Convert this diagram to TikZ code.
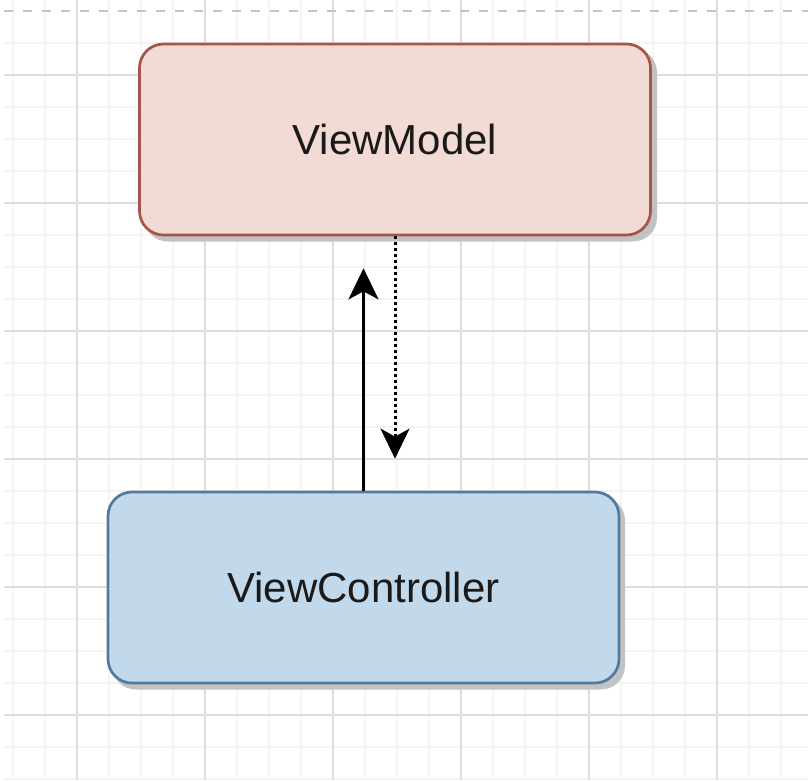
\documentclass[tikz,border=0pt]{standalone}
\usepackage{fontspec}
\setmainfont{Liberation Sans}
\usetikzlibrary{arrows.meta}
\definecolor{vmfill}{HTML}{F2DAD5}
\definecolor{vmdraw}{HTML}{A9544B}
\definecolor{vcfill}{HTML}{C2D8EB}
\definecolor{vcdraw}{HTML}{53799F}
\definecolor{minorgrid}{HTML}{F4F4F4}
\definecolor{majorgrid}{HTML}{DDDDDD}
\definecolor{pageline}{HTML}{C4C4C4}
\definecolor{txt}{HTML}{1A1A1A}
\definecolor{shadowc}{HTML}{C2C2C2}
\tikzset{
  box/.style={rounded corners=24pt, line width=2.7pt, minimum width=511pt, minimum height=191pt,
    font=\fontsize{42}{50}\selectfont, text=txt, inner sep=0pt},
  shadowbox/.style={rounded corners=24pt, fill=shadowc, draw=none, minimum width=513pt, minimum height=193pt},
  link/.style={line width=3pt, -{Stealth[length=31pt, width=30pt, inset=8pt]}, shorten >=32pt},
  dotlink/.style={line width=3pt, dash pattern=on 3pt off 3pt, -{Stealth[length=30pt, width=29pt, inset=8pt]}, shorten >=32pt}
}
\begin{document}
\begin{tikzpicture}[x=1pt, y=-1pt]
\useasboundingbox (0,0) rectangle (808,780);
\fill[white] (0,0) rectangle (808,780);
% minor grid
\foreach \x in {13,45,...,808} \draw[minorgrid, line width=1.2pt] (\x,0) -- (\x,780);
\foreach \y in {43,75,...,780} \draw[minorgrid, line width=1.2pt] (4,\y) -- (808,\y);
% major grid
\foreach \x in {77,205,...,808} \draw[majorgrid, line width=1.3pt] (\x,0) -- (\x,780);
\foreach \y in {75,203,...,780} \draw[majorgrid, line width=1.3pt] (4,\y) -- (808,\y);
% page border
\draw[pageline, line width=2pt, dash pattern=on 9pt off 10pt] (4,11) -- (808,11);
% shadows
\node[shadowbox] (vmsh) at (400.5,145) {};
\node[shadowbox] (vcsh) at (368.5,593) {};
% boxes
\node[box, fill=vmfill, draw=vmdraw] (vm) at (395,139.5) {ViewModel};
\node[box, fill=vcfill, draw=vcdraw] (vc) at (363.5,587.5) {ViewController};
% connectors
\draw[link] (vc.north) -- (vc.north |- vm.south);
\draw[dotlink] (vm.south) -- (vm.south |- vc.north);
\end{tikzpicture}
\end{document}
